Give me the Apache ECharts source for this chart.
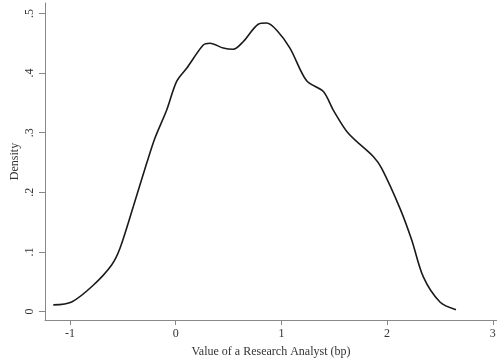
<!DOCTYPE html>
<html><head><meta charset="utf-8">
<script src="https://cdn.jsdelivr.net/npm/echarts@6/dist/echarts.min.js"></script>
<style>html,body{margin:0;padding:0;background:#fff}#c{width:497px;height:360px}</style>
</head><body><div id="c"></div>
<script>
const xValues = [-1.158,-0.984,-0.78,-0.606,-0.527,-0.401,-0.274,-0.196,-0.085,0.009,0.104,0.261,0.325,0.450,0.545,0.640,0.781,0.861,0.956,1.081,1.239,1.397,1.491,1.633,1.869,1.949,2.122,2.233,2.343,2.500,2.652];
const densities = [0.011,0.016,0.044,0.078,0.106,0.176,0.249,0.291,0.338,0.386,0.408,0.447,0.450,0.442,0.440,0.453,0.482,0.484,0.472,0.442,0.387,0.369,0.338,0.299,0.260,0.240,0.173,0.120,0.058,0.016,0.003];
const xTicks = [-1,0,1,2,3];
const yTicks = [0,0.1,0.2,0.3,0.4,0.5];
const xTitle = 'Value of a Research Analyst (bp)';
const yTitle = 'Density';

const font = 'Liberation Serif';
const chart = echarts.init(document.getElementById('c'), null, {renderer:'canvas'});
chart.setOption({
  animation:false,
  backgroundColor:'#fff',
  grid:{left:45, right:0, top:3, bottom:40, containLabel:false, outerBoundsMode:'none'},
  xAxis:{
    type:'value', min:-1.2365, max:3.04,
    name:xTitle, nameLocation:'middle', nameGap:26,
    nameTextStyle:{fontFamily:font, fontSize:12, color:'#333'},
    axisLine:{onZero:false, lineStyle:{color:'#888', width:1}},
    axisTick:{show:true, length:5, lineStyle:{color:'#888'}, customValues:xTicks},
    axisLabel:{fontFamily:font, fontSize:12, color:'#333', margin:8, customValues:xTicks, formatter:v=>String(v)},
    splitLine:{show:false}
  },
  yAxis:{
    type:'value', min:-0.0143, max:0.5176,
    name:yTitle, nameLocation:'middle', nameGap:24, nameRotate:90, nameMoveOverlap:false,
    nameTextStyle:{fontFamily:font, fontSize:12, color:'#333'},
    axisLine:{show:true, onZero:false, lineStyle:{color:'#888', width:1}},
    axisTick:{show:true, length:6, lineStyle:{color:'#888'}, customValues:yTicks},
    axisLabel:{fontFamily:font, fontSize:12, color:'#333', rotate:90, margin:9, customValues:yTicks,
      formatter:v=>{ if (Math.abs(v)<1e-9) return '0'; return String(Math.round(v*10)/10).replace(/^0\./,'.'); }},
    splitLine:{show:false}
  },
  series:[{
    type:'line',
    data:xValues.map((x,i)=>[x,densities[i]]),
    smooth:0.3,
    showSymbol:false,
    lineStyle:{color:'#1a1a1a', width:1.6}
  }]
});
</script></body></html>
